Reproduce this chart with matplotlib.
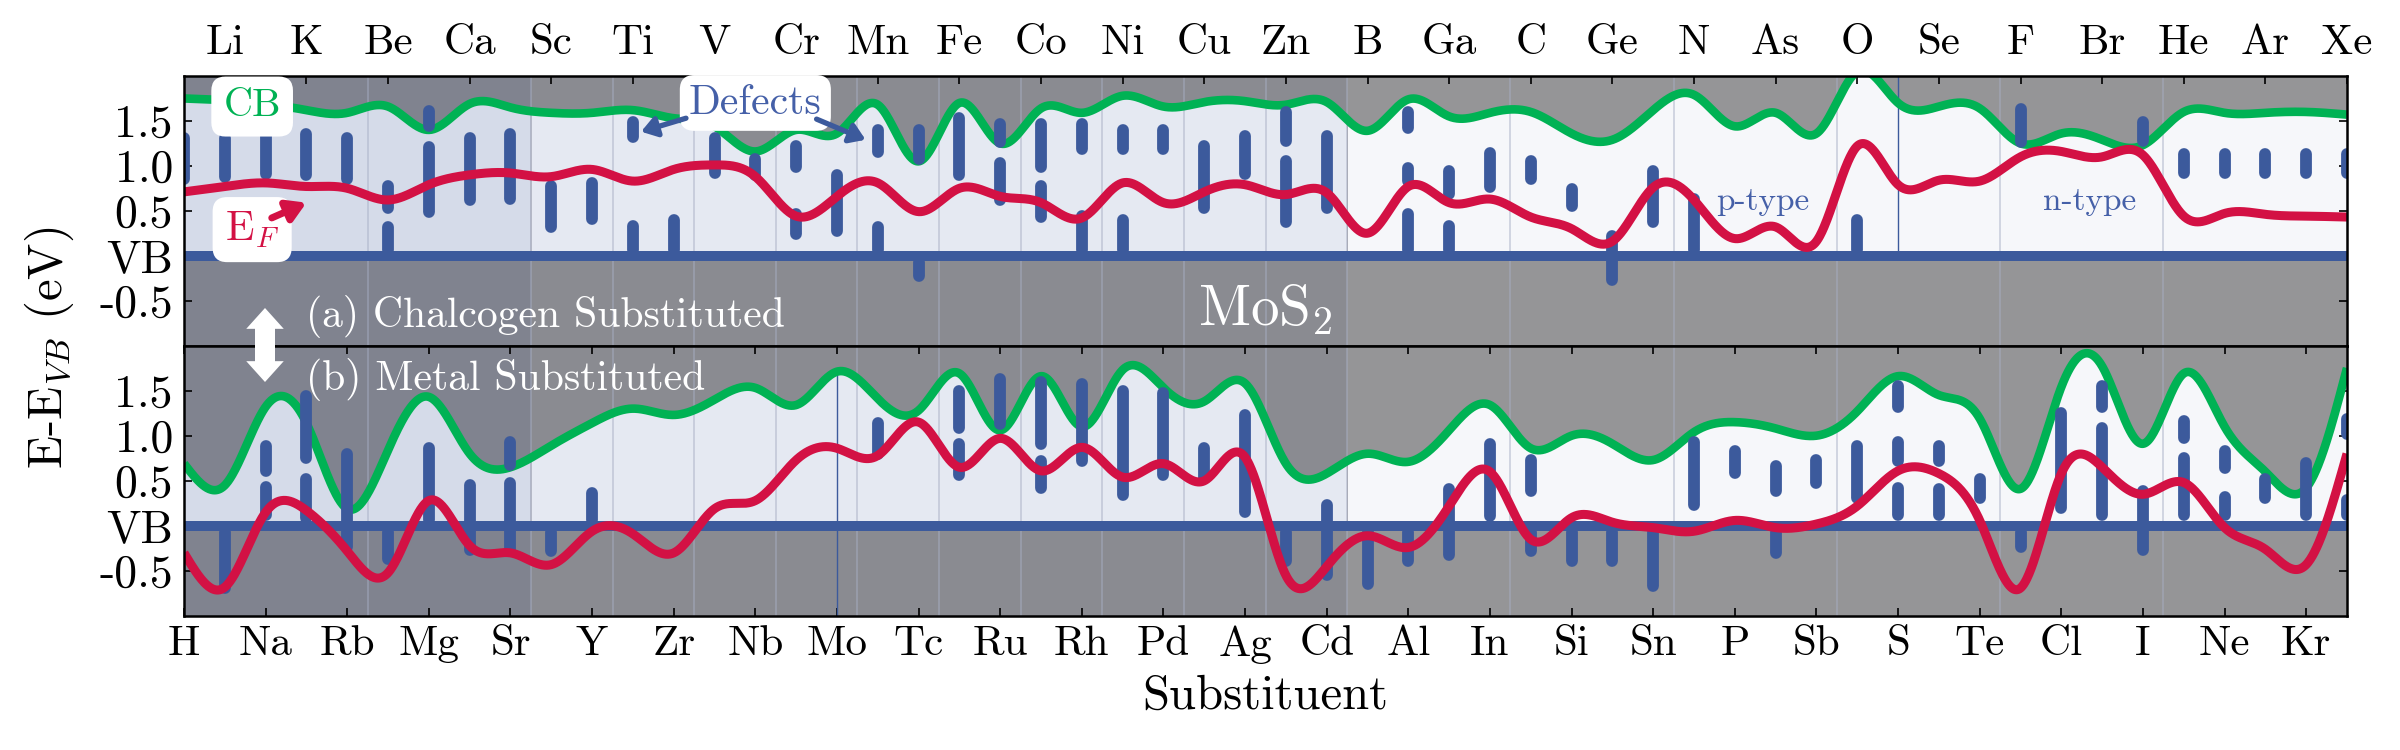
import numpy as np
import matplotlib
matplotlib.use("Agg")
import matplotlib.pyplot as plt
from matplotlib.patches import FancyArrowPatch

plt.rcParams['font.family'] = 'serif'
plt.rcParams['font.serif'] = ['cmr10', 'DejaVu Serif']
plt.rcParams['mathtext.fontset'] = 'cm'
plt.rcParams['axes.unicode_minus'] = False
plt.rcParams['axes.formatter.use_mathtext'] = True

# ---------------- data ----------------
bottom_labels = ['H', 'Na', 'Rb', 'Mg', 'Sr', 'Y', 'Zr', 'Nb', 'Mo', 'Tc', 'Ru', 'Rh', 'Pd', 'Ag',
                 'Cd', 'Al', 'In', 'Si', 'Sn', 'P', 'Sb', 'S', 'Te', 'Cl', 'I', 'Ne', 'Kr']
top_labels = ['Li', 'K', 'Be', 'Ca', 'Sc', 'Ti', 'V', 'Cr', 'Mn', 'Fe', 'Co', 'Ni', 'Cu', 'Zn',
              'B', 'Ga', 'C', 'Ge', 'N', 'As', 'O', 'Se', 'F', 'Br', 'He', 'Ar', 'Xe']
elements = [e for pair in zip(bottom_labels, top_labels) for e in pair]  # 54 substituents

# (a) chalcogen substituted
cb_chalc = [1.75, 1.73, 1.69, 1.62, 1.59, 1.66, 1.40, 1.69, 1.65, 1.59, 1.59, 1.62, 1.53, 1.44,
            1.16, 1.40, 1.36, 1.68, 1.05, 1.70, 1.25, 1.64, 1.59, 1.78, 1.66, 1.71, 1.72, 1.68,
            1.71, 1.39, 1.74, 1.55, 1.59, 1.60, 1.36, 1.29, 1.62, 1.79, 1.44, 1.59, 1.36, 2.05,
            1.70, 1.66, 1.64, 1.25, 1.36, 1.29, 1.23, 1.60, 1.59, 1.59, 1.60, 1.57]
ef_chalc = [0.71, 0.77, 0.81, 0.77, 0.75, 0.62, 0.79, 0.90, 0.92, 0.88, 0.96, 0.83, 0.96, 1.01,
            0.88, 0.44, 0.66, 0.81, 0.49, 0.75, 0.66, 0.59, 0.42, 0.81, 0.59, 0.71, 0.79, 0.68,
            0.70, 0.25, 0.77, 0.59, 0.63, 0.43, 0.30, 0.16, 0.76, 0.62, 0.19, 0.32, 0.16, 1.22,
            0.79, 0.84, 0.83, 1.10, 1.16, 1.10, 1.12, 0.44, 0.47, 0.46, 0.44, 0.43]
def_chalc_x = [0, 1, 2, 3, 4, 5, 5, 6, 6, 7, 8, 9, 10, 11, 11, 12, 13, 14, 15, 15, 16, 17, 17,
               18, 18, 19, 20, 20, 21, 21, 22, 22, 23, 23, 24, 25, 26, 27, 27, 28, 30, 30, 30,
               31, 31, 32, 33, 34, 35, 36, 37, 41, 45, 48, 49, 50, 51, 52, 53]
def_chalc_lo = [0.79, 0.81, 0.84, 0.83, 0.79, 0.47, 0.00, 1.38, 0.42, 0.55, 0.57, 0.25, 0.34,
                1.25, 0.00, 0.00, 0.86, 0.83, 0.92, 0.18, 0.21, 1.09, 0.00, 1.01, -0.29, 0.83,
                1.20, 0.55, 0.92, 0.36, 1.12, 0.00, 1.12, 0.00, 1.12, 0.47, 0.84, 1.21, 0.31,
                0.46, 1.36, 0.77, 0.00, 0.62, 0.00, 0.70, 0.79, 0.49, -0.34, 0.31, 0.00, 0.00,
                1.20, 1.21, 0.86, 0.86, 0.86, 0.86, 0.86]
def_chalc_hi = [1.38, 1.38, 1.42, 1.42, 1.38, 0.84, 0.38, 1.68, 1.27, 1.38, 1.42, 0.84, 0.88,
                1.55, 0.40, 0.46, 1.38, 1.14, 1.29, 0.53, 0.96, 1.46, 0.38, 1.46, 0.00, 1.60,
                1.53, 1.10, 1.53, 0.84, 1.53, 0.51, 1.47, 0.46, 1.47, 1.29, 1.40, 1.66, 1.12,
                1.40, 1.66, 1.04, 0.53, 1.01, 0.40, 1.21, 1.12, 0.81, 0.29, 1.01, 0.70, 0.46,
                1.70, 1.55, 1.20, 1.20, 1.20, 1.20, 1.20]

# (b) metal substituted
cb_metal = [0.69, 0.45, 1.32, 1.14, 0.19, 0.84, 1.43, 0.80, 0.65, 0.89, 1.14, 1.30, 1.23, 1.40,
            1.53, 1.34, 1.71, 1.41, 1.28, 1.69, 1.06, 1.66, 1.10, 1.73, 1.53, 1.38, 1.58, 0.69,
            0.58, 0.80, 0.71, 1.06, 1.34, 0.86, 1.00, 0.91, 0.73, 1.04, 1.15, 1.08, 1.00, 1.27,
            1.66, 1.45, 1.19, 0.41, 1.54, 1.77, 0.91, 1.69, 1.10, 0.60, 0.42, 1.75]
ef_metal = [-0.30, -0.68, 0.15, 0.17, -0.28, -0.52, 0.28, -0.22, -0.30, -0.43, -0.06, -0.09,
            -0.30, 0.19, 0.28, 0.73, 0.86, 0.78, 1.15, 0.65, 0.97, 0.61, 0.87, 0.54, 0.69, 0.50,
            0.76, -0.55, -0.45, -0.11, -0.24, 0.22, 0.60, -0.15, 0.09, 0.04, -0.02, -0.06, 0.06,
            -0.02, 0.02, 0.22, 0.61, 0.58, 0.06, -0.69, 0.58, 0.65, 0.35, 0.48, -0.02, -0.26,
            -0.43, 0.80]
def_metal_x = [1, 2, 2, 3, 3, 4, 5, 6, 7, 8, 8, 9, 10, 17, 19, 19, 20, 21, 21, 22, 23, 24, 25,
               26, 27, 28, 29, 30, 31, 32, 33, 33, 34, 35, 36, 37, 38, 39, 39, 40, 41, 42, 42,
               42, 43, 43, 44, 45, 46, 47, 47, 48, 49, 49, 50, 50, 51, 52, 53, 53]
def_metal_lo = [-0.76, 0.54, 0.05, 0.69, 0.02, -0.30, -0.43, 0.00, -0.33, 0.61, -0.35, -0.35,
                0.00, 0.73, 1.02, 0.50, 1.06, 0.84, 0.35, 0.65, 0.28, 0.50, 0.47, 0.09, -0.45,
                -0.61, -0.71, -0.45, -0.39, 0.04, 0.32, -0.35, -0.45, -0.45, -0.73, 0.17, 0.52,
                0.32, -0.37, 0.41, 0.24, 1.25, 0.65, 0.06, 0.65, 0.06, 0.24, -0.30, 0.13, 1.25,
                0.06, -0.33, 0.91, 0.06, 0.58, 0.06, 0.24, 0.06, 0.95, 0.06]
def_metal_hi = [0.00, 0.95, 0.50, 1.51, 0.58, 0.86, 0.00, 0.93, 0.52, 0.99, 0.54, 0.00, 0.43,
                1.21, 1.56, 0.97, 1.69, 1.66, 0.78, 1.64, 1.56, 1.54, 0.93, 1.30, 0.00, 0.30,
                0.00, 0.00, 0.47, 0.97, 0.80, 0.00, 0.00, 0.00, 0.00, 1.00, 0.89, 0.73, 0.00,
                0.80, 0.95, 1.62, 0.99, 0.48, 0.95, 0.47, 0.58, 0.00, 1.32, 1.62, 1.15, 0.45,
                1.23, 0.82, 0.89, 0.39, 0.58, 0.76, 1.25, 0.35]

# periodic-table groups (boundaries between substituent columns)
group_edges = [4.5, 8.5, 10.5, 12.5, 14.5, 16.5, 18.5, 20.5, 22.5, 24.5, 26.5, 28.5,
               32.5, 36.5, 40.5, 44.5, 48.5]
band_edges = [0, 8.5, 28.5, 53]
band_gray = ['#80838f', '#8a8b91', '#959597']
band_fill = ['#d5dbe9', '#e5e9f2', '#f6f7fa']

ytick_vals = [-0.5, 0.0, 0.5, 1.0, 1.5]
ytick_text = ['-0.5', 'VB', '0.5', '1.0', '1.5']

BLUE = '#3c5a9c'
GREEN = '#00b254'
RED = '#d31144'
TXTBLUE = '#4560a8'


def natural_spline(x, y, xs):
    x = np.asarray(x, float)
    y = np.asarray(y, float)
    n = len(x)
    h = np.diff(x)
    A = np.zeros((n, n))
    r = np.zeros(n)
    A[0, 0] = A[-1, -1] = 1.0
    for i in range(1, n - 1):
        A[i, i - 1] = h[i - 1]
        A[i, i] = 2 * (h[i - 1] + h[i])
        A[i, i + 1] = h[i]
        r[i] = 3 * ((y[i + 1] - y[i]) / h[i] - (y[i] - y[i - 1]) / h[i - 1])
    c = np.linalg.solve(A, r)
    b = (y[1:] - y[:-1]) / h - h * (2 * c[:-1] + c[1:]) / 3
    d = (c[1:] - c[:-1]) / (3 * h)
    idx = np.clip(np.searchsorted(x, xs) - 1, 0, n - 2)
    dx = xs - x[idx]
    return y[idx] + b[idx] * dx + c[idx] * dx ** 2 + d[idx] * dx ** 3


W, H = 2400, 750
fig = plt.figure(figsize=(24, 7.5), dpi=100)
L, R = 184 / W, 2347 / W
ax_top = fig.add_axes([L, 1 - 345.5 / H, R - L, (345.5 - 76) / H])
ax_bot = fig.add_axes([L, 1 - 616 / H, R - L, (616 - 345.5) / H])

xpos = np.arange(len(elements))
xs = np.linspace(0, len(elements) - 1, 3000)
BAR_LW = 8.5


def draw_panel(ax, cb, ef, dx, dlo, dhi):
    ax.set_xlim(0, len(elements) - 1)
    ax.set_ylim(-1, 2)
    cb_s = natural_spline(xpos, cb, xs)
    ef_s = natural_spline(xpos, ef, xs)
    for k in range(len(band_gray)):
        ax.axvspan(band_edges[k], band_edges[k + 1], color=band_gray[k], lw=0, zorder=0)
        m = (xs >= band_edges[k] - 1e-9) & (xs <= band_edges[k + 1] + 1e-9)
        ax.fill_between(xs[m], 0, cb_s[m], color=band_fill[k], lw=0, zorder=1)
    for g in group_edges:
        ax.axvline(g, color='#a7aec4', lw=1.2, alpha=0.55, zorder=1.5)
    ax.axhline(0, color=BLUE, lw=7.2, zorder=3)
    ax.plot(xs, cb_s, color=GREEN, lw=6.2, zorder=4, solid_capstyle='butt')
    # defect levels, shortened by the round cap radius
    px_per_unit = ax.get_position().height * H / 3.0
    r = BAR_LW / 2 * 100 / 72 / px_per_unit
    lo = np.array(dlo, float)
    hi = np.array(dhi, float)
    lo2 = np.where(hi - lo > 2 * r, lo + r, (lo + hi) / 2)
    hi2 = np.where(hi - lo > 2 * r, hi - r, (lo + hi) / 2)
    ax.vlines(dx, lo2, hi2, colors=BLUE, lw=BAR_LW, capstyle='round', zorder=5)
    ax.plot(xs, ef_s, color=RED, lw=6.5, zorder=6, solid_capstyle='butt')
    ax.set_yticks(ytick_vals)
    ax.set_yticklabels(ytick_text)
    ax.tick_params(axis='y', direction='in', left=True, right=True, labelright=False,
                   length=6, width=1.2, labelsize=33, pad=8)
    for s in ax.spines.values():
        s.set_linewidth(1.8)
        s.set_zorder(20)
    return cb_s


cbt = draw_panel(ax_top, cb_chalc, ef_chalc, def_chalc_x, def_chalc_lo, def_chalc_hi)
cbb = draw_panel(ax_bot, cb_metal, ef_metal, def_metal_x, def_metal_lo, def_metal_hi)

# host-atom marker lines
ax_top.plot([elements.index('S')] * 2, [0, 2], color=BLUE, lw=1.0, zorder=2)
ax_bot.plot([elements.index('Mo')] * 2, [-1, cb_metal[elements.index('Mo')]], color=BLUE,
            lw=1.0, zorder=2)

# x ticks
ax_top.set_xticks(xpos[1::2])
ax_top.set_xticklabels(top_labels)
ax_top.tick_params(axis='x', direction='in', top=True, bottom=False, labeltop=True,
                   labelbottom=False, length=6, width=1.2, labelsize=31, pad=10)
ax_bot.set_xticks(xpos[0::2])
ax_bot.set_xticklabels(bottom_labels)
ax_bot.tick_params(axis='x', direction='in', top=True, bottom=True, labelbottom=True,
                   length=6, width=1.2, labelsize=31, pad=7)

# labels
fig.text(49 / W, 0.536, r'E-E$_{VB}$ (eV)', rotation=90, ha='center', va='center', fontsize=35)
fig.text(0.5 * (L + R), 1 - 697 / H, 'Substituent', ha='center', va='center', fontsize=35)

# annotations
box = dict(boxstyle='round,pad=0.3,rounding_size=0.35', fc='white', ec='none')
ax_top.text(1.67, 1.66, 'CB', color=GREEN, fontsize=29, ha='center', va='center', bbox=box,
            zorder=30)
ax_top.text(1.67, 0.29, r'E$_F$', color=RED, fontsize=30, ha='center', va='center', bbox=box,
            zorder=30)
ax_top.annotate('', xy=(3.0, 0.59), xytext=(2.15, 0.42),
                arrowprops=dict(arrowstyle='-|>,head_length=0.5,head_width=0.3', lw=5,
                                color=RED, mutation_scale=22, shrinkA=0, shrinkB=0), zorder=30)
ax_top.text(14.0, 1.70, 'Defects', color=TXTBLUE, fontsize=30, ha='center', va='center',
            bbox=dict(boxstyle='round,pad=0.22,rounding_size=0.35', fc='white', ec='none'),
            zorder=30)
for start, end in [((12.3, 1.53), (11.2, 1.38)), ((15.5, 1.52), (16.7, 1.29))]:
    ax_top.annotate('', xy=end, xytext=start,
                    arrowprops=dict(arrowstyle='-|>,head_length=0.45,head_width=0.3', lw=3.8,
                                    color=BLUE, mutation_scale=20, shrinkA=0, shrinkB=0),
                    zorder=30)
ax_top.text(38.68, 0.51, 'p-type', color=TXTBLUE, fontsize=24, ha='center', va='baseline',
            zorder=30)
ax_top.text(46.7, 0.51, 'n-type', color=TXTBLUE, fontsize=24, ha='center', va='baseline',
            zorder=30)
ax_top.text(26.5, -0.77, r'MoS$_2$', color='white', fontsize=41, ha='center', va='baseline',
            zorder=30)
ax_top.text(3.0, -0.79, '(a) Chalcogen Substituted', color='white', fontsize=30, ha='left',
            va='baseline', zorder=30)
ax_bot.text(3.0, 1.51, '(b) Metal Substituted', color='white', fontsize=30, ha='left',
            va='baseline', zorder=30)

# white double arrow between the panels
for y_end in (1 - 308 / H, 1 - 382 / H):
    fig.add_artist(FancyArrowPatch((265 / W, 1 - 345 / H), (265 / W, y_end),
                                   transform=fig.transFigure,
                                   arrowstyle='simple,head_length=0.75,head_width=1.35,tail_width=0.72',
                                   mutation_scale=20, color='white', lw=0, zorder=40,
                                   shrinkA=0, shrinkB=0))

fig.savefig('out.png', dpi=100)
